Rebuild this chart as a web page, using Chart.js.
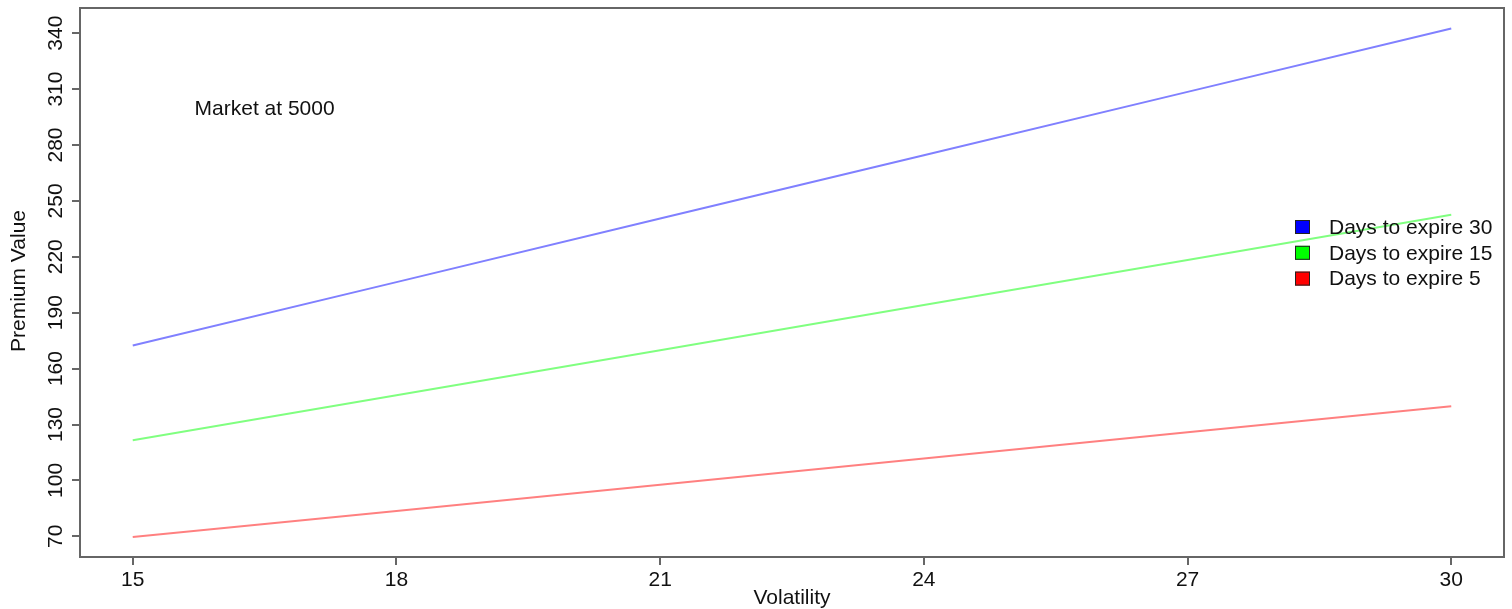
<!DOCTYPE html>
<html>
<head>
<meta charset="utf-8">
<script src="https://cdn.jsdelivr.net/npm/chart.js@4.4.1/dist/chart.umd.min.js"></script>
<style>
html,body{margin:0;padding:0;background:#fff;}
#wrap{width:1512px;height:609px;position:relative;}
</style>
</head>
<body>
<div id="wrap"><canvas id="c" width="1512" height="609"></canvas></div>
<script>
const volatility = [15, 18, 21, 24, 27, 30];
const days30 = [172.4, 206.4, 240.5, 274.5, 308.5, 342.5];
const days15 = [121.5, 145.7, 169.9, 194.1, 218.3, 242.5];
const days5  = [69.6, 83.6, 97.7, 111.7, 125.8, 139.8];
const seriesLabels = ['Days to expire 30', 'Days to expire 15', 'Days to expire 5'];
const xTicks = [15, 18, 21, 24, 27, 30];
const yTicks = [70, 100, 130, 160, 190, 220, 250, 280, 310, 340];
const annotationText = 'Market at 5000';
const annotationPos = [16.5, 299];
const xTitle = 'Volatility';
const yTitle = 'Premium Value';

const FONT = '"Liberation Sans", Arial, sans-serif';
const FS = 21;
const TXT = '#111111';
const AXC = '#666666';

const toPts = arr => arr.map((v, i) => ({x: volatility[i], y: v}));

const lineColors = ['rgba(128,128,255,1)', 'rgba(128,255,128,1)', 'rgba(255,128,128,1)'];
const legendColors = ['#0000ff', '#00ff00', '#ff0000'];

const extras = {
  id: 'extras',
  afterDraw(chart) {
    const {ctx, chartArea: a, scales: {x, y}} = chart;
    ctx.save();
    ctx.strokeStyle = AXC;
    ctx.lineWidth = 2;
    ctx.strokeRect(a.left, a.top, a.right - a.left, a.bottom - a.top);
    ctx.fillStyle = TXT;
    ctx.font = FS + 'px ' + FONT;
    ctx.textAlign = 'center';
    ctx.textBaseline = 'middle';
    ctx.fillText(annotationText, x.getPixelForValue(annotationPos[0]), y.getPixelForValue(annotationPos[1]));
    ctx.fillText(xTitle, (a.left + a.right) / 2, 598);
    ctx.save();
    ctx.translate(19, 281);
    ctx.rotate(-Math.PI / 2);
    ctx.fillText(yTitle, 0, 0);
    ctx.restore();
    ctx.textAlign = 'left';
    const lx = 1295, ly0 = 227, dy = 25.8;
    seriesLabels.forEach((lab, i) => {
      const cy = ly0 + i * dy;
      ctx.fillStyle = legendColors[i];
      ctx.fillRect(lx, cy - 7, 15, 14);
      ctx.strokeStyle = '#222';
      ctx.lineWidth = 1;
      ctx.strokeRect(lx + 0.5, cy - 6.5, 14, 13);
      ctx.fillStyle = TXT;
      ctx.fillText(lab, 1329, cy + 1);
    });
    ctx.restore();
  }
};

new Chart(document.getElementById('c'), {
  type: 'line',
  data: {
    datasets: [
      {label: seriesLabels[0], data: toPts(days30), borderColor: lineColors[0], borderWidth: 2, pointRadius: 0, tension: 0},
      {label: seriesLabels[1], data: toPts(days15), borderColor: lineColors[1], borderWidth: 2, pointRadius: 0, tension: 0},
      {label: seriesLabels[2], data: toPts(days5),  borderColor: lineColors[2], borderWidth: 2, pointRadius: 0, tension: 0}
    ]
  },
  options: {
    responsive: false,
    animation: false,
    events: [],
    layout: {padding: {left: 0, top: 8, right: 8, bottom: 0}},
    plugins: {legend: {display: false}, tooltip: {enabled: false}, title: {display: false}},
    scales: {
      x: {
        type: 'linear', min: 14.4, max: 30.6,
        afterBuildTicks: s => { s.ticks = xTicks.map(v => ({value: v})); },
        afterFit: s => { s.height = 52; s.paddingLeft = 0; s.paddingRight = 0; },
        border: {display: false},
        grid: {drawOnChartArea: false, drawTicks: true, tickLength: 8, color: AXC, lineWidth: 2},
        ticks: {font: {size: FS, family: FONT}, color: TXT, padding: 3, maxRotation: 0, minRotation: 0}
      },
      y: {
        type: 'linear', min: 58.9, max: 353.5,
        afterBuildTicks: s => { s.ticks = yTicks.map(v => ({value: v})); },
        afterFit: s => { s.width = 80; s.paddingTop = 0; s.paddingBottom = 0; },
        border: {display: false},
        grid: {drawOnChartArea: false, drawTicks: true, tickLength: 8, color: AXC, lineWidth: 2},
        ticks: {font: {size: FS, family: FONT}, color: TXT, padding: -2, minRotation: 90, maxRotation: 90, crossAlign: 'center'}
      }
    }
  },
  plugins: [extras]
});
</script>
</body>
</html>
